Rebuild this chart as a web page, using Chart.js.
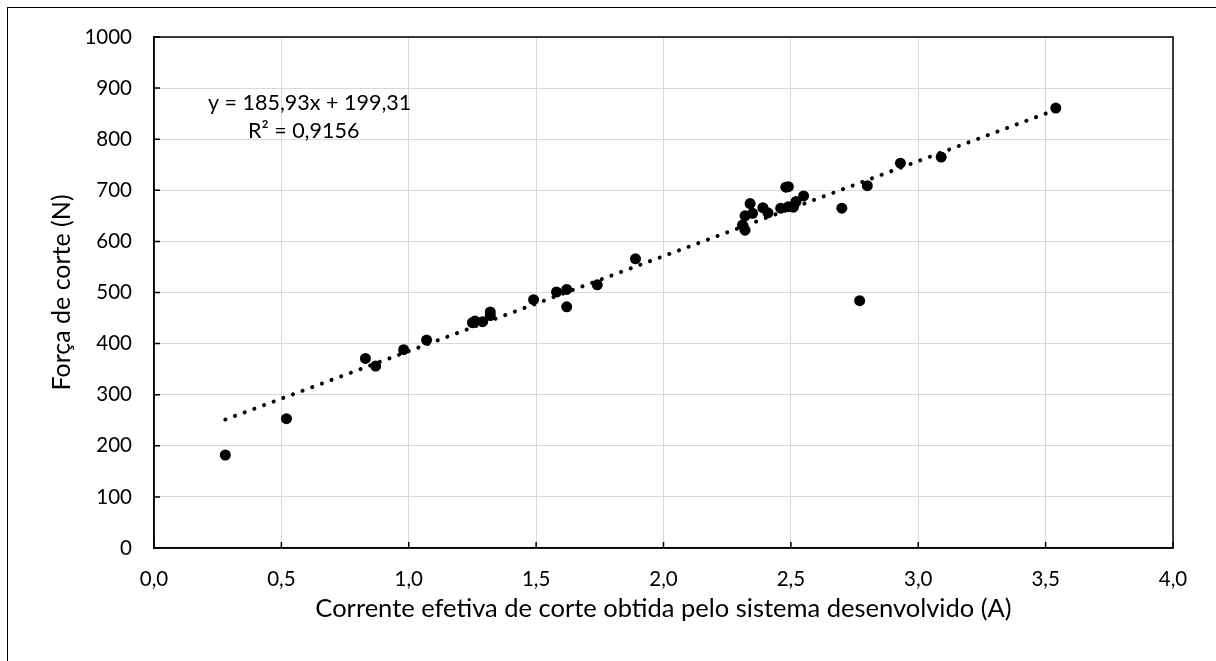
<!DOCTYPE html>
<html>
<head>
<meta charset="utf-8">
<script src="https://cdn.jsdelivr.net/npm/chart.js@4/dist/chart.umd.min.js"></script>
<style>
  html, body { margin: 0; padding: 0; background: #fff; }
  #frame { position: absolute; left: 7px; top: 7px; width: 1300px; height: 800px; border: 1.5px solid #000; }
  #wrap { position: absolute; left: 0; top: 0; width: 1216px; height: 661px; }
</style>
</head>
<body>
<div id="frame"></div>
<div id="wrap"><canvas id="chart"></canvas></div>
<script>
// measured points: corrente (A) vs força (N)
const corrente = [0.28, 0.52, 0.83, 0.87, 0.98, 1.07, 1.25, 1.26, 1.29, 1.32, 1.32, 1.49, 1.58, 1.62, 1.62, 1.74, 1.89,
  2.31, 2.32, 2.32, 2.34, 2.35, 2.39, 2.41, 2.46, 2.48, 2.49, 2.49, 2.51, 2.52, 2.55, 2.70, 2.77, 2.80, 2.93, 3.09, 3.54];
const forca = [182, 253, 371, 356, 388, 407, 441, 444, 443, 462, 455, 486, 501, 506, 472, 515, 566,
  632, 622, 650, 674, 655, 666, 656, 665, 706, 707, 668, 667, 678, 689, 665, 484, 709, 753, 765, 861];

// linear trendline shown on the chart
const slope = 185.93;
const intercept = 199.31;
const trendX = [0.28, 3.54];
const equationText = 'y = 185,93x + 199,31';
const r2Text = 'R² = 0,9156';

const FONT = 'Lato, "Open Sans", sans-serif';

const points = corrente.map((x, i) => ({ x: x, y: forca[i] }));
const trend = trendX.map(x => ({ x: x, y: slope * x + intercept }));

const boxPlugin = {
  id: 'box',
  afterDatasetsDraw(chart) {
    const ctx = chart.ctx;
    const a = chart.chartArea;
    const xs = chart.scales.x, ys = chart.scales.y;
    ctx.save();
    ctx.strokeStyle = '#000';
    ctx.lineWidth = 1.5;
    ctx.strokeRect(a.left, a.top, a.right - a.left, a.bottom - a.top);
    ctx.beginPath();
    xs.ticks.forEach(t => {
      const px = xs.getPixelForValue(t.value);
      ctx.moveTo(px, a.bottom);
      ctx.lineTo(px, a.bottom - 6);
    });
    ys.ticks.forEach(t => {
      const py = ys.getPixelForValue(t.value);
      ctx.moveTo(a.left, py);
      ctx.lineTo(a.left + 6, py);
    });
    ctx.stroke();

    ctx.fillStyle = '#000';
    ctx.font = '21.5px ' + FONT;
    ctx.textBaseline = 'alphabetic';
    ctx.textAlign = 'left';
    ctx.fillText(equationText, 208, 110);
    ctx.fillText(r2Text, 248, 138);
    ctx.restore();
  }
};

new Chart(document.getElementById('chart'), {
  type: 'scatter',
  data: {
    datasets: [
      {
        label: 'Força de corte',
        data: points,
        backgroundColor: '#000',
        borderWidth: 0,
        pointRadius: 5.5,
        order: 2
      },
      {
        type: 'line',
        label: 'Linear',
        data: trend,
        showLine: true,
        borderColor: '#000',
        borderWidth: 4,
        borderDash: [0.1, 10.2],
        borderCapStyle: 'round',
        pointRadius: 0,
        fill: false,
        order: 1
      }
    ]
  },
  options: {
    responsive: true,
    maintainAspectRatio: false,
    animation: false,
    events: [],
    layout: { padding: { top: 37, right: 43, left: 0, bottom: 0 } },
    plugins: {
      legend: { display: false },
      tooltip: { enabled: false }
    },
    scales: {
      x: {
        type: 'linear',
        min: 0,
        max: 4,
        afterFit(scale) { scale.height = 113; },
        ticks: {
          stepSize: 0.5,
          color: '#000',
          font: { family: FONT, size: 20.5 },
          padding: 19,
          callback: v => v.toFixed(1).replace('.', ',')
        },
        grid: { color: '#d9d9d9', lineWidth: 1, drawTicks: false },
        border: { color: '#000', width: 1.5 },
        title: {
          display: true,
          text: 'Corrente efetiva de corte obtida pelo sistema desenvolvido (A)',
          color: '#000',
          font: { family: FONT, size: 25.5, lineHeight: 1 },
          padding: { top: 0, bottom: 39 }
        }
      },
      y: {
        min: 0,
        max: 1000,
        afterFit(scale) { scale.width = 154; },
        ticks: {
          stepSize: 100,
          color: '#000',
          font: { family: FONT, size: 20.5 },
          padding: 22,
          callback: v => String(v)
        },
        grid: { color: '#d9d9d9', lineWidth: 1, drawTicks: false },
        border: { color: '#000', width: 1.5 },
        title: {
          display: true,
          text: 'Força de corte (N)',
          color: '#000',
          font: { family: FONT, size: 25, lineHeight: 1 },
          padding: { top: 49, bottom: 0 }
        }
      }
    }
  },
  plugins: [boxPlugin]
});
</script>
</body>
</html>
